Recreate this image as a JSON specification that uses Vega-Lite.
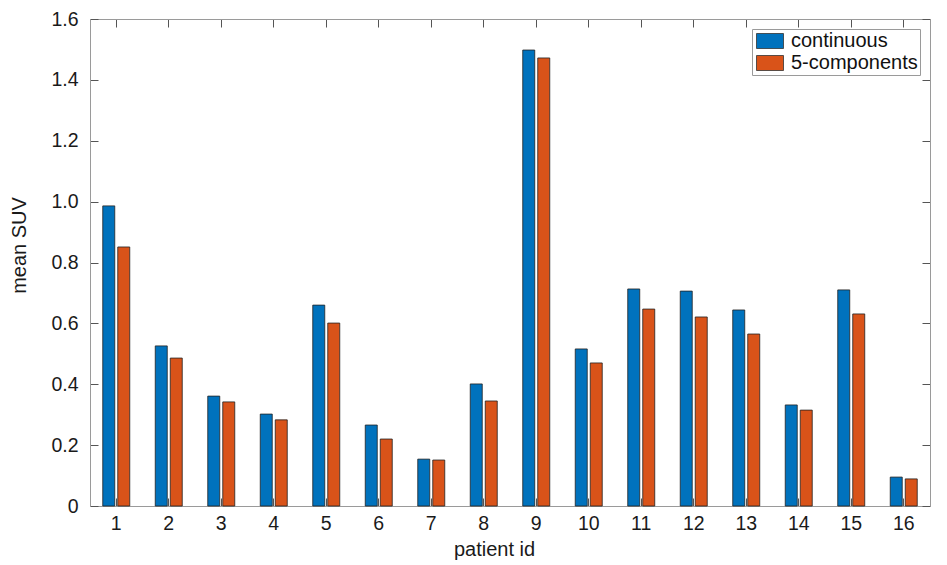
{
  "$schema": "https://vega.github.io/schema/vega-lite/v6.json",
  "width": 840,
  "height": 487,
  "autosize": {"type": "none"},
  "padding": {"left": 90, "top": 19, "right": 17, "bottom": 59},
  "background": "white",
  "config": {
    "view": {"stroke": null},
    "font": "Liberation Sans",
    "axis": {
      "domainColor": "#9a9a9a",
      "tickColor": "#555555",
      "grid": false,
      "labelFont": "Liberation Sans",
      "titleFont": "Liberation Sans",
      "labelFontSize": 19.5,
      "titleFontSize": 20,
      "labelColor": "#1a1a1a",
      "titleColor": "#1a1a1a",
      "titleFontWeight": "normal"
    },
    "legend": {
      "labelFont": "Liberation Sans",
      "labelFontSize": 20,
      "labelColor": "#111111"
    }
  },
  "data": {
    "values": [
      {"id": 1, "series": "continuous", "suv": 0.986},
      {"id": 1, "series": "5-components", "suv": 0.851},
      {"id": 2, "series": "continuous", "suv": 0.526},
      {"id": 2, "series": "5-components", "suv": 0.486},
      {"id": 3, "series": "continuous", "suv": 0.361},
      {"id": 3, "series": "5-components", "suv": 0.342},
      {"id": 4, "series": "continuous", "suv": 0.302},
      {"id": 4, "series": "5-components", "suv": 0.283},
      {"id": 5, "series": "continuous", "suv": 0.660},
      {"id": 5, "series": "5-components", "suv": 0.601},
      {"id": 6, "series": "continuous", "suv": 0.266},
      {"id": 6, "series": "5-components", "suv": 0.220},
      {"id": 7, "series": "continuous", "suv": 0.154},
      {"id": 7, "series": "5-components", "suv": 0.151},
      {"id": 8, "series": "continuous", "suv": 0.401},
      {"id": 8, "series": "5-components", "suv": 0.345},
      {"id": 9, "series": "continuous", "suv": 1.498},
      {"id": 9, "series": "5-components", "suv": 1.472},
      {"id": 10, "series": "continuous", "suv": 0.516},
      {"id": 10, "series": "5-components", "suv": 0.470},
      {"id": 11, "series": "continuous", "suv": 0.713},
      {"id": 11, "series": "5-components", "suv": 0.647},
      {"id": 12, "series": "continuous", "suv": 0.706},
      {"id": 12, "series": "5-components", "suv": 0.621},
      {"id": 13, "series": "continuous", "suv": 0.644},
      {"id": 13, "series": "5-components", "suv": 0.565},
      {"id": 14, "series": "continuous", "suv": 0.332},
      {"id": 14, "series": "5-components", "suv": 0.315},
      {"id": 15, "series": "continuous", "suv": 0.710},
      {"id": 15, "series": "5-components", "suv": 0.631},
      {"id": 16, "series": "continuous", "suv": 0.095},
      {"id": 16, "series": "5-components", "suv": 0.089}
    ]
  },
  "layer": [
    {
      "mark": {"type": "bar", "stroke": "#222222", "strokeWidth": 0.8},
      "encoding": {
        "x": {
          "field": "id",
          "type": "ordinal",
          "sort": "ascending",
          "scale": {"paddingInner": 0.4857, "paddingOuter": 0.2429},
          "axis": {
            "orient": "bottom",
            "title": "patient id",
            "labelAngle": 0,
            "tickSize": -8,
            "labelPadding": 16,
            "titleX": 404,
            "titleY": 49,
            "titleAlign": "center",
            "titleBaseline": "alphabetic"
          }
        },
        "xOffset": {
          "field": "series",
          "type": "nominal",
          "sort": ["continuous", "5-components"],
          "scale": {"paddingInner": 0.2, "paddingOuter": 0}
        },
        "y": {
          "field": "suv",
          "type": "quantitative",
          "scale": {"domain": [0, 1.6], "nice": false, "zero": true},
          "axis": {
            "orient": "left",
            "title": "mean SUV",
            "values": [0, 0.2, 0.4, 0.6, 0.8, 1.0, 1.2, 1.4, 1.6],
            "labelExpr": "datum.value == 0 ? '0' : format(datum.value, '.1f')",
            "tickSize": -8,
            "labelPadding": 20,
            "titleX": -65,
            "titleY": 226,
            "titleAngle": -90,
            "titleAlign": "center",
            "titleBaseline": "alphabetic"
          }
        },
        "color": {
          "field": "series",
          "type": "nominal",
          "scale": {"domain": ["continuous", "5-components"], "range": ["#0072BD", "#D95319"]},
          "legend": {
            "title": null,
            "orient": "none",
            "legendX": 662,
            "legendY": 10,
            "strokeColor": "#9a9a9a",
            "fillColor": "white",
            "padding": 2,
            "rowPadding": 2,
            "labelOffset": 17,
            "symbolType": "M-1,-1H2.6V1H-1Z",
            "symbolSize": 225,
            "symbolStrokeColor": "#333333",
            "symbolStrokeWidth": 0.8,
            "symbolOpacity": 1
          }
        }
      }
    },
    {
      "mark": {"type": "bar", "opacity": 0},
      "encoding": {
        "x": {
          "field": "id",
          "type": "ordinal",
          "sort": "ascending",
          "axis": {"orient": "top", "title": null, "labels": false, "tickSize": -8}
        },
        "xOffset": {"field": "series", "type": "nominal", "sort": ["continuous", "5-components"]},
        "y": {
          "field": "suv",
          "type": "quantitative",
          "axis": {
            "orient": "right",
            "title": null,
            "labels": false,
            "values": [0, 0.2, 0.4, 0.6, 0.8, 1.0, 1.2, 1.4, 1.6],
            "tickSize": -8
          }
        }
      }
    }
  ],
  "resolve": {"axis": {"x": "independent", "y": "independent"}}
}
